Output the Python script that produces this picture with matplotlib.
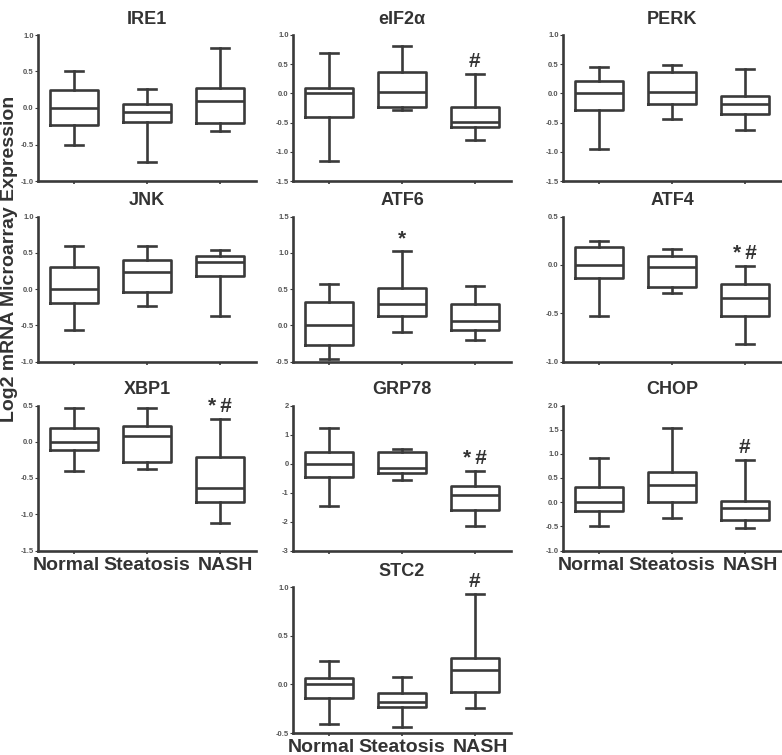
import numpy as np
import matplotlib
matplotlib.use('Agg')
import matplotlib.pyplot as plt

plt.rcParams['font.family'] = ['Liberation Sans', 'DejaVu Sans']
plt.rcParams['axes.unicode_minus'] = False

groups = ['Normal', 'Steatosis', 'NASH']

# each box: [whisker low, q1, median, q3, whisker high] for Normal / Steatosis / NASH
ire1 = [[-0.50, -0.23, 0.00, 0.25, 0.50], [-0.74, -0.19, -0.05, 0.06, 0.26], [-0.31, -0.21, 0.10, 0.28, 0.82]]
eif2a = [[-1.15, -0.41, 0.00, 0.10, 0.69], [-0.28, -0.24, 0.03, 0.37, 0.82], [-0.79, -0.58, -0.49, -0.23, 0.33]]
perk = [[-0.96, -0.29, 0.00, 0.21, 0.46], [-0.43, -0.18, 0.03, 0.37, 0.49], [-0.63, -0.35, -0.18, -0.05, 0.42]]
jnk = [[-0.57, -0.19, 0.00, 0.31, 0.59], [-0.24, -0.04, 0.24, 0.40, 0.60], [-0.37, 0.18, 0.37, 0.46, 0.54]]
atf6 = [[-0.47, -0.27, 0.00, 0.32, 0.57], [-0.09, 0.13, 0.30, 0.52, 1.02], [-0.20, -0.06, 0.06, 0.29, 0.54]]
atf4 = [[-0.53, -0.14, 0.00, 0.18, 0.25], [-0.29, -0.23, -0.02, 0.09, 0.16], [-0.82, -0.53, -0.34, -0.20, -0.01]]
xbp1 = [[-0.40, -0.11, 0.00, 0.19, 0.46], [-0.38, -0.28, 0.08, 0.22, 0.46], [-1.12, -0.83, -0.64, -0.21, 0.31]]
grp78 = [[-1.47, -0.47, 0.00, 0.39, 1.22], [-0.56, -0.34, -0.14, 0.38, 0.51], [-2.17, -1.62, -1.07, -0.79, -0.26]]
chop = [[-0.50, -0.19, 0.00, 0.31, 0.92], [-0.33, 0.00, 0.35, 0.63, 1.53], [-0.54, -0.37, -0.12, 0.03, 0.87]]
stc2 = [[-0.41, -0.14, 0.00, 0.07, 0.24], [-0.44, -0.23, -0.18, -0.09, 0.08], [-0.24, -0.08, 0.15, 0.27, 0.93]]

genes = ['IRE1', 'eIF2α', 'PERK', 'JNK', 'ATF6', 'ATF4', 'XBP1', 'GRP78', 'CHOP', 'STC2']
boxes = [ire1, eif2a, perk, jnk, atf6, atf4, xbp1, grp78, chop, stc2]
ylims = [(-1.0, 1.0), (-1.5, 1.0), (-1.5, 1.0), (-1.0, 1.0), (-0.5, 1.5),
         (-1.0, 0.5), (-1.5, 0.5), (-3, 2), (-1.0, 2.0), (-0.5, 1.0)]
ysteps = [0.5, 0.5, 0.5, 0.5, 0.5, 0.5, 0.5, 1, 0.5, 0.5]
sig = {'eIF2α': ['', '', '#'], 'ATF6': ['', '*', ''], 'ATF4': ['', '', '*\u2009#'],
       'XBP1': ['', '', '*\u2009#'], 'GRP78': ['', '', '*\u2009#'], 'CHOP': ['', '', '#'],
       'STC2': ['', '', '#']}

# panel grid position (row, col) and which panels show the group names
grid = [(0, 0), (0, 1), (0, 2), (1, 0), (1, 1), (1, 2), (2, 0), (2, 1), (2, 2), (3, 1)]
show_names = ['XBP1', 'CHOP', 'STC2']

W, H = 782, 755
col_left = [38, 293, 563]
row_span = [(35, 181), (216.5, 361.5), (405.5, 550.5), (587, 733)]
dark = '#3a3a3a'
name_shift = [-5.5, 0, 4]  # points, spreads the group names like the original

fig = plt.figure(figsize=(W / 100, H / 100), dpi=100)

for gene, data, ylim, step, (r, c) in zip(genes, boxes, ylims, ysteps, grid):
    top, bot = row_span[r]
    ax = fig.add_axes([col_left[c] / W, 1 - bot / H, 218 / W, (bot - top) / H])
    stats = [dict(whislo=d[0], q1=d[1], med=d[2], q3=d[3], whishi=d[4], fliers=[]) for d in data]
    ax.bxp(stats, positions=[1, 2, 3], widths=0.66, capwidths=0.25, showfliers=False,
           boxprops=dict(color=dark, linewidth=1.9),
           whiskerprops=dict(color=dark, linewidth=1.9),
           capprops=dict(color=dark, linewidth=1.9),
           medianprops=dict(color=dark, linewidth=1.9))
    ax.set_xlim(0.5, 3.5)
    ax.set_ylim(*ylim)
    ticks = np.arange(ylim[0], ylim[1] + step / 2, step)
    ax.set_yticks(ticks)
    if step == 1:
        ax.set_yticklabels(['%d' % t for t in ticks])
    else:
        ax.set_yticklabels(['%.1f' % t for t in ticks])
    ax.set_xticks([1, 2, 3])
    ax.set_xticklabels([])
    if gene in show_names:
        for i, (g, dx) in enumerate(zip(groups, name_shift)):
            ax.annotate(g, xy=(i + 1, 0), xycoords=ax.get_xaxis_transform(),
                        xytext=(dx, -4.5), textcoords='offset points', ha='center', va='top',
                        fontsize=14, fontweight='bold', color='#333333')
    for lab in ax.get_yticklabels():
        lab.set_fontweight('bold')
    ax.tick_params(axis='y', length=2, width=0.8, pad=1, labelsize=5.5, labelcolor='#555555', color=dark)
    ax.tick_params(axis='x', length=2.5, width=1.2, color=dark)
    for s in ['top', 'right']:
        ax.spines[s].set_visible(False)
    for s in ['left', 'bottom']:
        ax.spines[s].set_linewidth(1.9)
        ax.spines[s].set_color(dark)
    ax.set_title(gene, fontsize=13, fontweight='bold', color='#333333', pad=8)
    if gene in sig:
        for i, s in enumerate(sig[gene]):
            if s:
                ax.annotate(s, xy=(i + 1, data[i][4]), xytext=(0, 9), textcoords='offset points',
                            ha='center', va='center', fontsize=15, fontweight='bold', color='#333333')

fig.text(10 / W, 1 - 259 / H, 'Log2 mRNA Microarray Expression', rotation=90,
         ha='center', va='center', fontsize=14, fontweight='bold', color='#333333')

fig.savefig('out.png', dpi=100)
